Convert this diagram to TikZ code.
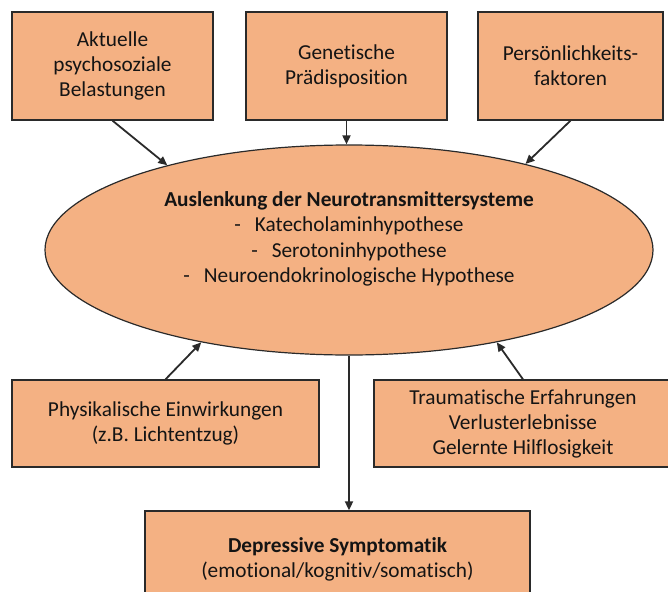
\documentclass[tikz,border=0pt]{standalone}
\usepackage{fontspec}
\setmainfont[Ligatures=NoCommon]{Carlito}
\usetikzlibrary{shapes.geometric,arrows.meta,shadows}
\definecolor{boxfill}{HTML}{F4B183}
\definecolor{edge}{HTML}{2A2A2A}
\definecolor{ink}{HTML}{141414}
\begin{document}
\begin{tikzpicture}[x=1pt,y=-1pt,
  box/.style={draw=edge, line width=1.3pt, fill=boxfill, rectangle, inner sep=0pt,
    align=center, text=ink, font=\fontsize{21.3}{25}\selectfont,
    drop shadow={shadow xshift=1.2pt, shadow yshift=-1.2pt, opacity=0.45}},
  ellbox/.style={draw=edge, line width=1.2pt, fill=boxfill, ellipse, inner sep=0pt},
  elltext/.style={align=center, text=ink, font=\fontsize{21.3}{25.5}\selectfont},
  arr/.style={draw=edge, line width=1.8pt, -{Triangle[length=9pt,width=8pt]}}]
\useasboundingbox (0,0) rectangle (668,591);

\node[box, minimum width=201pt, minimum height=108pt] (b1) at (112.5,66) {Aktuelle\\psychosoziale\\Belastungen};
\node[box, minimum width=201pt, minimum height=108pt] (b2) at (346.5,66) {Genetische\\Prädisposition};
\node[box, minimum width=185pt, minimum height=108pt] (b3) at (570.5,66) {Persönlichkeits-\\faktoren};

\node[ellbox, minimum width=608pt, minimum height=210pt] (ell) at (349,250) {};
\node[elltext] (et) at (349,239) {\textbf{Auslenkung der Neurotransmittersysteme}\\
  -\hspace{14pt}Katecholaminhypothese\\
  -\hspace{14pt}Serotoninhypothese\\
  -\hspace{14pt}Neuroendokrinologische Hypothese};

\node[box, minimum width=307pt, minimum height=87pt] (ph) at (165.5,423.5) {Physikalische Einwirkungen\\(z.B. Lichtentzug)};
\node[box, minimum width=298pt, minimum height=87pt] (tr) at (523,423.5) {Traumatische Erfahrungen\\Verlusterlebnisse\\Gelernte Hilflosigkeit};
\node[box, minimum width=385pt, minimum height=96pt] (dep) at (337.5,559) {\textbf{Depressive Symptomatik}\\(emotional/kognitiv/somatisch)};

\draw[arr] (b1.south) -- (ell.155);
\draw[arr] (b2.south) -- (ell.north -| b2.south);
\draw[arr] (b3.south) -- (ell.26);
\draw[arr] (ph.north) -- (ell.212);
\draw[arr] (tr.north) -- (ell.328);
\draw[arr] (ell.south) -- (ell.south |- dep.north);
\end{tikzpicture}
\end{document}
